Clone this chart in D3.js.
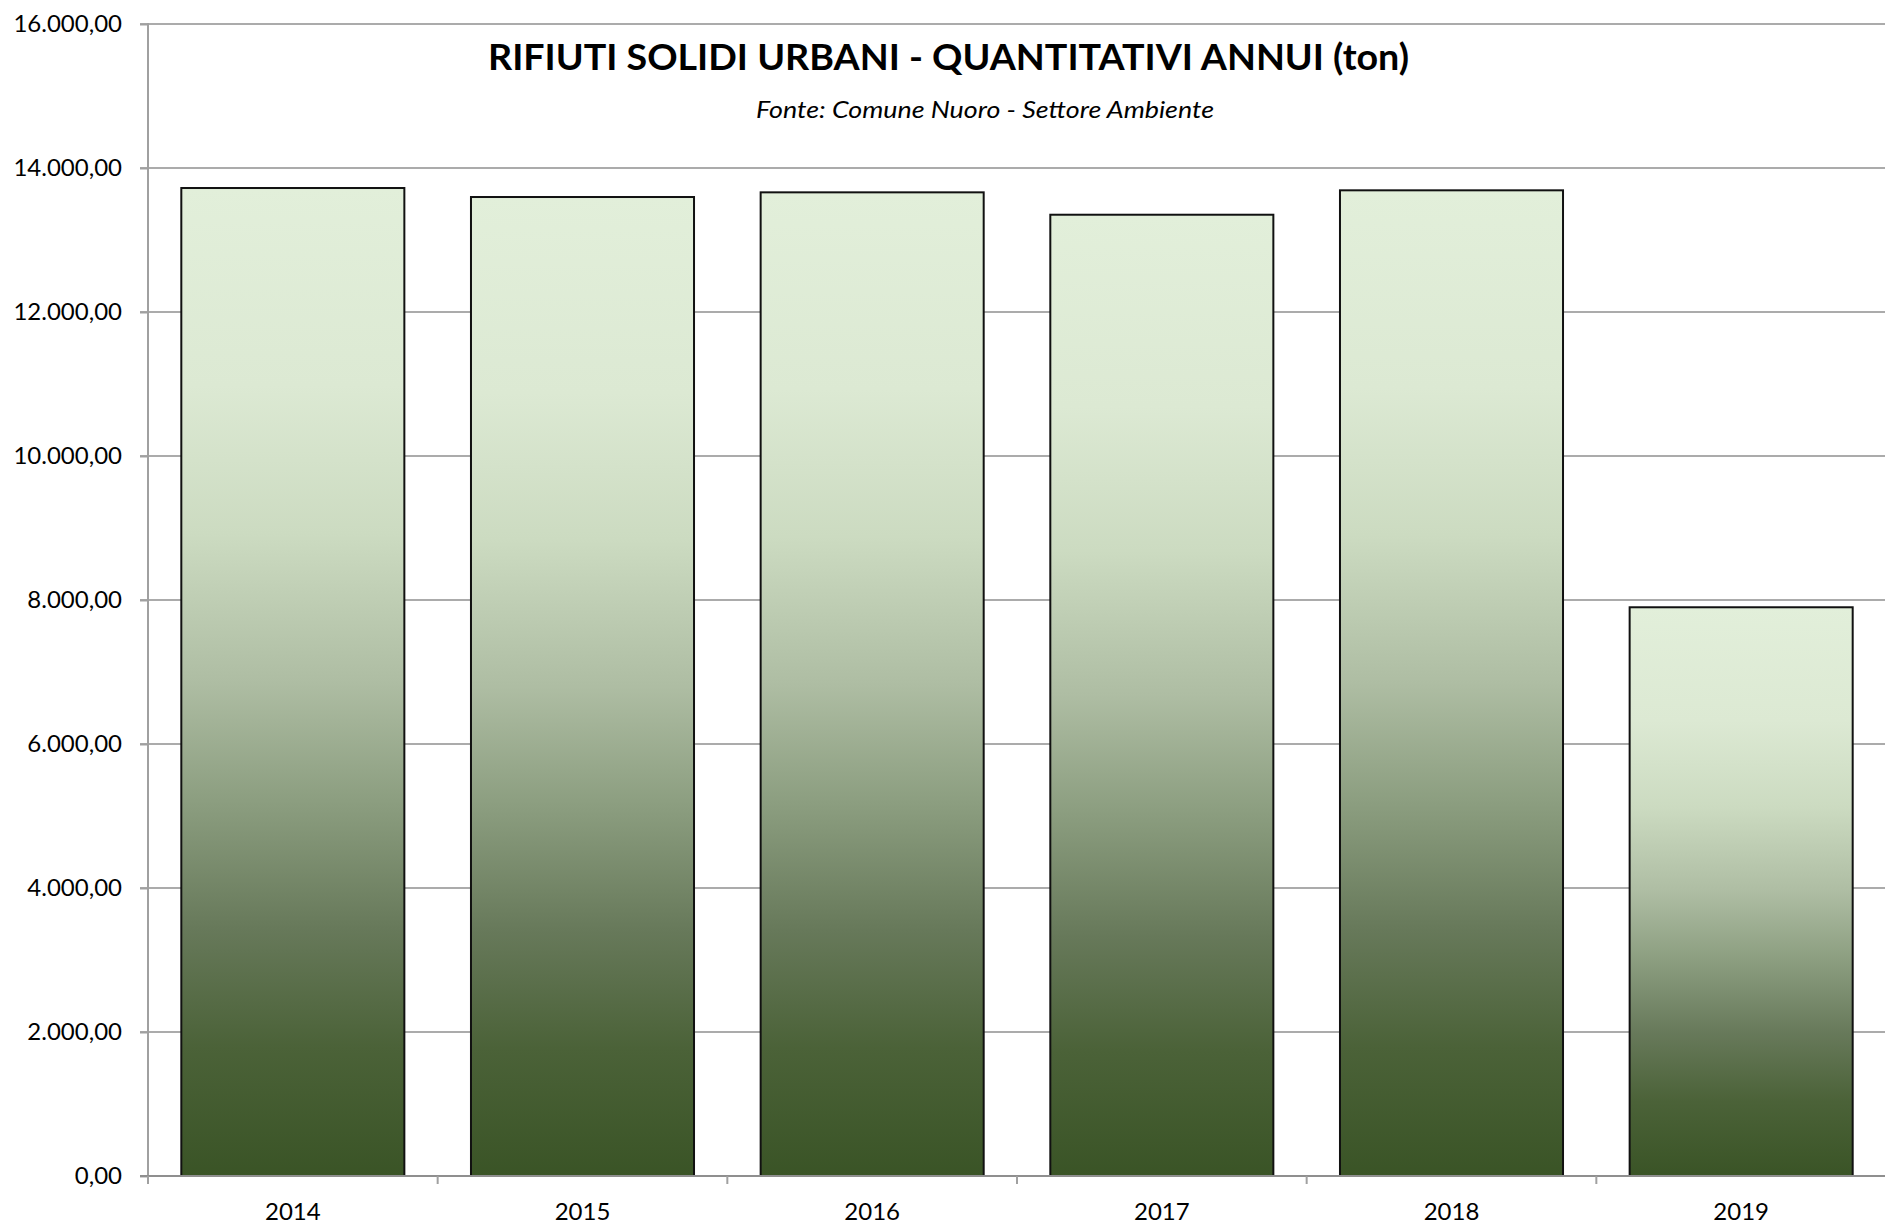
<!DOCTYPE html>
<html>
<head>
<meta charset="utf-8">
<script src="https://d3js.org/d3.v7.min.js"></script>
<style>
  html, body { margin: 0; padding: 0; background: #fff; }
  svg { display: block; }
  text { font-family: Lato, "Open Sans", "DejaVu Sans", sans-serif; fill: #000; }
</style>
</head>
<body>
<svg id="chart" width="1885" height="1227"></svg>
<script>
const categories = ["2014", "2015", "2016", "2017", "2018", "2019"];
const values = [13722, 13597, 13662, 13351, 13690, 7899];
const yTicks = [0, 2000, 4000, 6000, 8000, 10000, 12000, 14000, 16000];
const titleText = "RIFIUTI SOLIDI URBANI - QUANTITATIVI ANNUI (ton)";
const subtitleText = "Fonte: Comune Nuoro - Settore Ambiente";

const W = 1885, H = 1227;
const margin = { left: 148, top: 24, right: -1, bottom: 51 };
const svg = d3.select("#chart");

const x = d3.scaleBand()
  .domain(categories)
  .range([margin.left, W - margin.right])
  .paddingInner(0.23)
  .paddingOuter(0.115);

const y = d3.scaleLinear()
  .domain([0, 16000])
  .range([H - margin.bottom, margin.top]);

const fmt = v => {
  const s = d3.format(",.2f")(v);
  return s.replace(/,/g, "#").replace(/\./g, ",").replace(/#/g, ".");
};

// gradient
const defs = svg.append("defs");
const grad = defs.append("linearGradient")
  .attr("id", "barGrad")
  .attr("x1", 0).attr("y1", 0).attr("x2", 0).attr("y2", 1);
[
  [0.00, "#e2efda"],
  [0.20, "#dce9d3"],
  [0.35, "#ccdbc1"],
  [0.50, "#aebda3"],
  [0.62, "#8c9e80"],
  [0.75, "#67795a"],
  [0.87, "#4b6238"],
  [1.00, "#3a5426"]
].forEach(([o, c]) => grad.append("stop").attr("offset", o).attr("stop-color", c));

// gridlines
svg.append("g")
  .selectAll("line")
  .data(yTicks.filter(t => t > 0))
  .join("line")
  .attr("x1", margin.left - 8)
  .attr("x2", W)
  .attr("y1", d => y(d))
  .attr("y2", d => y(d))
  .attr("stroke", "#ababab")
  .attr("stroke-width", 2);

// bars
svg.append("g")
  .selectAll("rect")
  .data(categories.map((c, i) => ({ c, v: values[i] })))
  .join("rect")
  .attr("x", d => x(d.c))
  .attr("y", d => y(d.v))
  .attr("width", x.bandwidth())
  .attr("height", d => y(0) - y(d.v))
  .attr("fill", "url(#barGrad)")
  .attr("stroke", "#111")
  .attr("stroke-width", 2);

// y axis
const yAxis = d3.axisLeft(y)
  .tickValues(yTicks)
  .tickSize(8)
  .tickPadding(18)
  .tickFormat(fmt);
const gy = svg.append("g")
  .attr("transform", `translate(${margin.left},0)`)
  .call(yAxis);
gy.select(".domain").remove();
gy.selectAll(".tick line").attr("stroke", "#a0a0a0").attr("stroke-width", 2);
gy.selectAll(".tick text")
  .attr("font-size", 24)
  .attr("font-family", "Lato, 'Open Sans', sans-serif")
  .attr("fill", "#000");
svg.append("line")
  .attr("x1", margin.left).attr("x2", margin.left)
  .attr("y1", y(16000) - 1).attr("y2", y(0) + 8)
  .attr("stroke", "#a0a0a0").attr("stroke-width", 2);

// x axis
svg.append("line")
  .attr("x1", margin.left - 8).attr("x2", W)
  .attr("y1", y(0)).attr("y2", y(0))
  .attr("stroke", "#8f8f8f").attr("stroke-width", 2);
const boundaries = d3.range(categories.length + 1);
svg.append("g")
  .selectAll("line")
  .data(boundaries)
  .join("line")
  .attr("x1", i => x.range()[0] + i * x.step())
  .attr("x2", i => x.range()[0] + i * x.step())
  .attr("y1", y(0))
  .attr("y2", y(0) + 8)
  .attr("stroke", "#a0a0a0")
  .attr("stroke-width", 2);
svg.append("g")
  .selectAll("text")
  .data(categories)
  .join("text")
  .attr("x", d => x(d) + x.bandwidth() / 2)
  .attr("y", y(0) + 44)
  .attr("text-anchor", "middle")
  .attr("font-size", 24)
  .text(d => d);

// titles
svg.append("text")
  .attr("x", 488)
  .attr("y", 70)
  .attr("font-size", 36)
  .attr("font-weight", "bold")
  .attr("textLength", 921)
  .attr("lengthAdjust", "spacingAndGlyphs")
  .text(titleText);
svg.append("text")
  .attr("x", 756)
  .attr("y", 118)
  .attr("font-size", 24)
  .attr("font-style", "italic")
  .attr("textLength", 458)
  .attr("lengthAdjust", "spacingAndGlyphs")
  .text(subtitleText);
</script>
</body>
</html>
